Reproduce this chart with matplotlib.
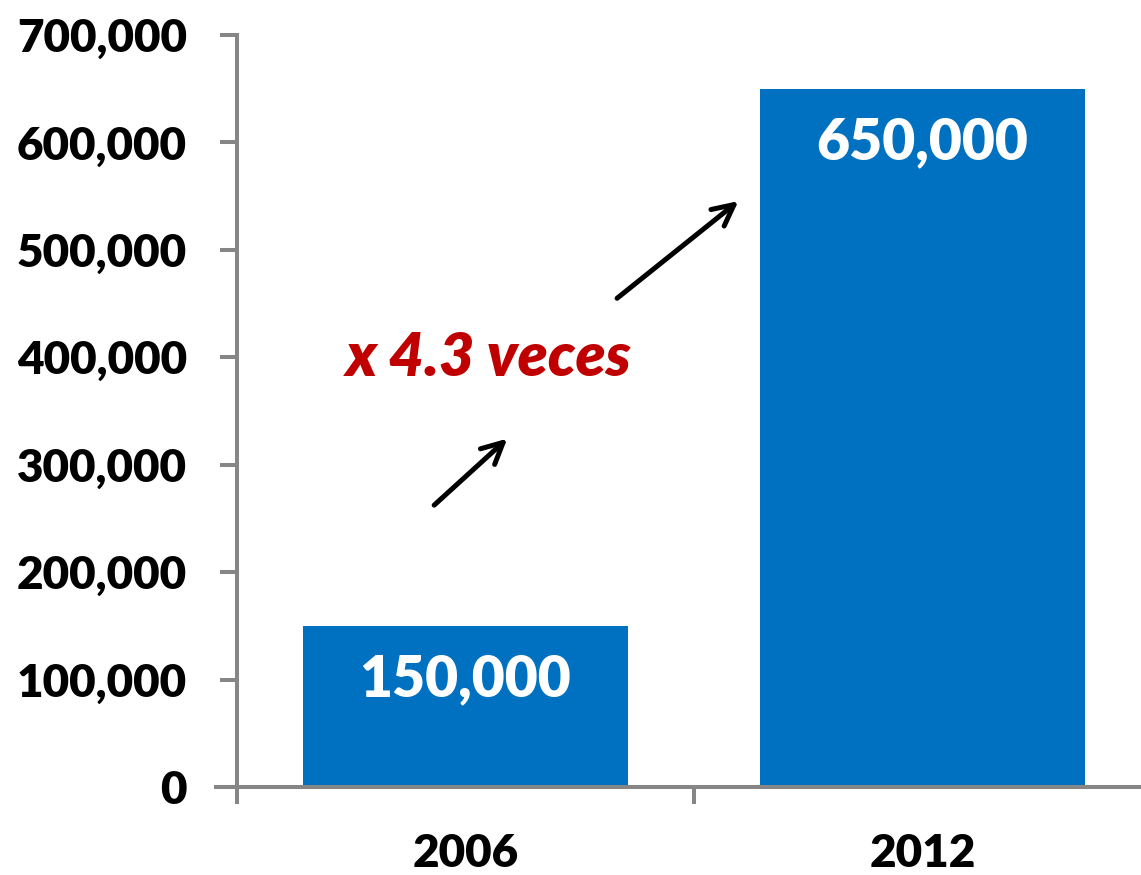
import matplotlib.pyplot as plt

years = ['2006', '2012']
visitors = [150000, 650000]
growth_label = 'x 4.3 veces'

BLUE = '#0070C0'
GREY = '#868686'
RED = '#C00000'

plt.rcParams['font.family'] = ['Lato', 'DejaVu Sans']
WEIGHT = 'heavy'

fig = plt.figure(figsize=(11.41, 8.75), dpi=100)
ax = fig.add_axes([0.2077, 0.1006, 0.801, 0.8594])

x = range(len(years))
ax.bar(x, visitors, width=0.713, color=BLUE, zorder=2)

for xi, v in zip(x, visitors):
    ax.text(xi, v - 50000, f'{v:,}', ha='center', va='center',
            color='white', fontsize=41, fontweight=WEIGHT)

ax.set_xlim(-0.5, 1.5)
ax.set_ylim(0, 700000)
ax.set_yticks(range(0, 700001, 100000))
ax.set_yticklabels([f'{t:,}' for t in range(0, 700001, 100000)])
ax.set_xticks([-0.5, 0.5, 1.5], minor=False)
ax.set_xticklabels(['', '', ''])
ax.set_xticks(list(x), minor=True)
ax.set_xticklabels(years, minor=True)

for s in ['top', 'right']:
    ax.spines[s].set_visible(False)
for s in ['left', 'bottom']:
    ax.spines[s].set_color(GREY)
    ax.spines[s].set_linewidth(2.9)
    ax.spines[s].set_zorder(3)
ax.spines['bottom'].set_bounds(-0.545, 1.5)

ax.tick_params(axis='y', direction='out', length=12, width=2.9, color=GREY,
               pad=24, labelsize=33)
ax.tick_params(axis='x', which='major', direction='out', length=12, width=2.9,
               color=GREY)
ax.tick_params(axis='x', which='minor', length=0, pad=33, labelsize=33)
for lab in ax.get_yticklabels() + ax.get_xticklabels(minor=True):
    lab.set_fontweight(WEIGHT)

# growth annotation
arrow = dict(arrowstyle='->', color='black', lw=3.6, mutation_scale=38)
ax.annotate('', xy=(0.096, 326000), xytext=(-0.073, 260600), arrowprops=arrow)
ax.annotate('', xy=(0.602, 547000), xytext=(0.327, 453300), arrowprops=arrow)
ax.text(0.051, 399300, growth_label, ha='center', va='center', color=RED,
        fontsize=44, fontweight=WEIGHT, fontstyle='italic')

fig.savefig('out.png', dpi=100)
